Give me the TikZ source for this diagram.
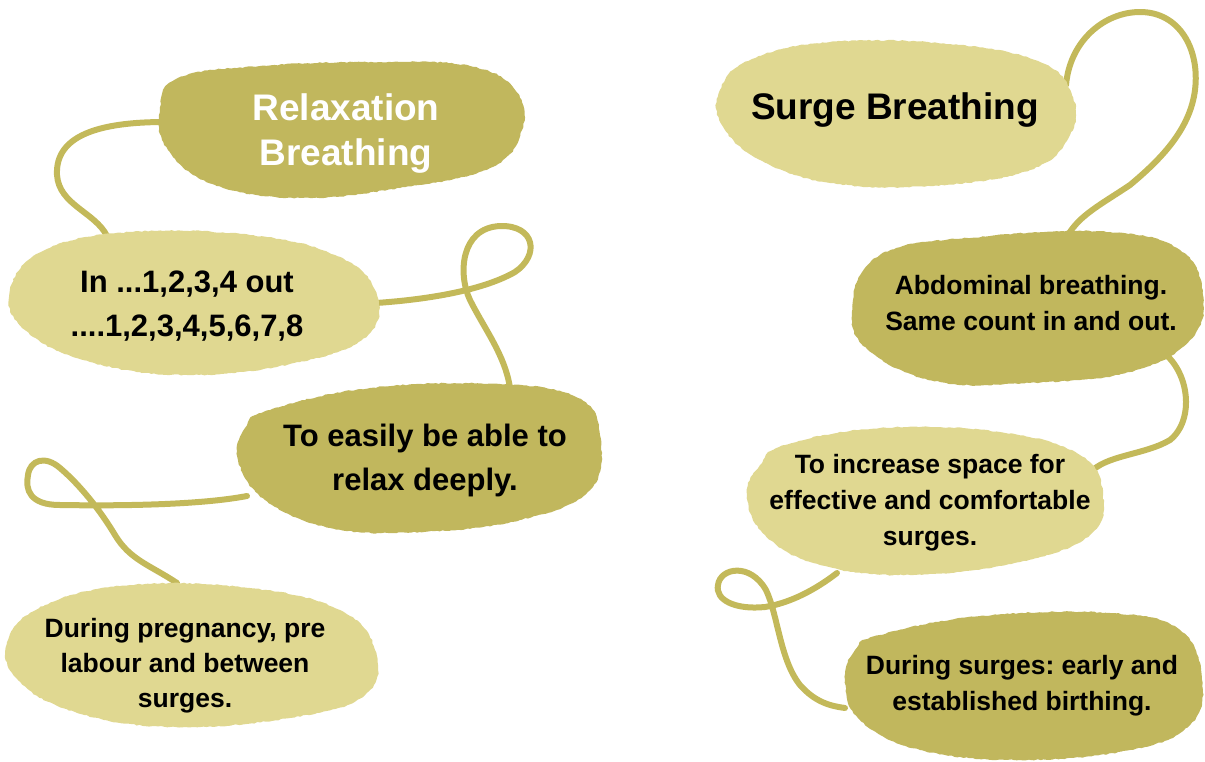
\documentclass[tikz,border=0pt]{standalone}
\usepackage{fontspec}
\setmainfont{Liberation Sans}
\usetikzlibrary{decorations.pathmorphing}
\pgfdeclarelayer{back}
\pgfdeclarelayer{mid}
\pgfsetlayers{back,mid,main}
\definecolor{olivedark}{RGB}{193,183,93}
\definecolor{olivelight}{RGB}{224,216,145}
\definecolor{wire}{RGB}{195,185,90}
\frenchspacing
\begin{document}
\frenchspacing
\begin{tikzpicture}[x=1pt,y=-1pt,
  wirestyle/.style={draw=wire,line width=6pt,line cap=round},
  rough/.style={decorate,decoration={random steps,segment length=3pt,amplitude=0.6pt}},
  darkblob/.style={fill=olivedark,rough},
  lightblob/.style={fill=olivelight,rough},
  txt/.style={align=center,inner sep=0pt,font=\bfseries},
  titlefont/.style={font=\bfseries\fontsize{37pt}{45pt}\selectfont},
  bigfont/.style={font=\bfseries\fontsize{31pt}{44pt}\selectfont},
  smallfont/.style={font=\bfseries\fontsize{26.5pt}{36pt}\selectfont},
  tightfont/.style={font=\bfseries\fontsize{26.5pt}{35pt}\selectfont}]
\useasboundingbox (0,0) rectangle (1205,761);

% text nodes
\node[txt,titlefont,text=white] (t1) at (346,134) {Relaxation\\Breathing};
\node[txt,bigfont] (t2) at (187,306) {In ...1,2,3,4 out\\....1,2,3,4,5,6,7,8};
\node[txt,bigfont] (t3) at (425,460) {To easily be able to\\relax deeply.};
\node[txt,tightfont] (t4) at (185,666) {During pregnancy, pre\\labour and between\\surges.};
\node[txt,titlefont] (t5) at (895,110) {Surge Breathing};
\node[txt,smallfont] (t6) at (1031,303) {Abdominal breathing.\\Same count in and out.};
\node[txt,smallfont] (t7) at (930,503) {To increase space for\\effective and comfortable\\surges.};
\node[txt,smallfont] (t8) at (1022,686) {During surges: early and\\established birthing.};

% connector end points (on the blobs of the nodes)
\coordinate (t1w) at (165,122);
\coordinate (t2n) at (107,236);
\coordinate (t2e) at (376,303);
\coordinate (t3n) at (510,388);
\coordinate (t3w) at (247,496);
\coordinate (t4n) at (177,583);
\coordinate (t5e) at (1066,85);
\coordinate (t6n) at (1068,235);
\coordinate (t6se) at (1160,350);
\coordinate (t7ne) at (1090,473);
\coordinate (t7s) at (837,573);
\coordinate (t8w) at (845,708);

% blobs
\begin{pgfonlayer}{mid}
\fill[darkblob] plot[smooth cycle,tension=0.7] coordinates {(178,78) (260,66) (380,62) (470,66) (515,90) (522,130) (490,168) (400,188) (300,198) (215,185) (168,150) (160,110)};
\fill[lightblob] plot[smooth cycle,tension=0.7] coordinates {(45,250) (130,232) (250,235) (335,255) (375,290) (368,335) (300,362) (190,375) (90,362) (25,330) (10,290)};
\fill[darkblob] plot[smooth cycle,tension=0.7] coordinates {(270,410) (370,388) (500,384) (578,398) (600,435) (590,490) (520,520) (420,532) (330,528) (265,500) (238,460) (245,428)};
\fill[lightblob] plot[smooth cycle,tension=0.7] coordinates {(45,605) (130,585) (250,588) (340,610) (375,650) (365,695) (290,718) (170,727) (75,712) (18,680) (8,640)};
\fill[lightblob] plot[smooth cycle,tension=0.7] coordinates {(750,60) (830,42) (950,44) (1040,62) (1072,95) (1070,135) (1030,170) (930,186) (830,183) (760,160) (722,125) (720,90)};
\fill[darkblob] plot[smooth cycle,tension=0.7] coordinates {(880,255) (990,236) (1110,232) (1180,250) (1203,295) (1190,340) (1130,372) (1030,383) (940,382) (875,355) (852,315)};
\fill[lightblob] plot[smooth cycle,tension=0.7] coordinates {(785,445) (880,428) (1000,432) (1080,455) (1103,495) (1090,535) (1020,562) (910,575) (820,565) (765,535) (747,495) (760,465)};
\fill[darkblob] plot[smooth cycle,tension=0.7] coordinates {(880,635) (980,616) (1110,613) (1180,630) (1202,680) (1190,725) (1130,750) (1020,760) (920,750) (860,720) (845,680) (855,650)};
\end{pgfonlayer}

% connectors
\begin{pgfonlayer}{back}
\draw[wirestyle] (t1w) .. controls (100,122) and (55,135) .. (57,175) .. controls (59,205) and (95,212) .. (t2n);
\draw[wirestyle] (t2e) .. controls (420,300) and (480,292) .. (515,272) .. controls (540,255) and (535,225) .. (500,226) .. controls (460,228) and (458,275) .. (470,300) .. controls (485,330) and (505,355) .. (t3n);
\draw[wirestyle] (t3w) .. controls (200,505) and (120,506) .. (60,505) .. controls (30,505) and (25,490) .. (28,475) .. controls (30,460) and (45,455) .. (60,468) .. controls (80,485) and (100,510) .. (115,535) .. controls (130,560) and (150,565) .. (t4n);
\draw[wirestyle] (t5e) .. controls (1070,40) and (1105,12) .. (1140,12) .. controls (1180,12) and (1200,50) .. (1195,90) .. controls (1190,130) and (1160,160) .. (1130,185) .. controls (1100,205) and (1080,215) .. (t6n);
\draw[wirestyle] (t6se) .. controls (1190,370) and (1195,420) .. (1170,440) .. controls (1145,455) and (1105,455) .. (t7ne);
\draw[wirestyle] (t7s) .. controls (815,590) and (790,603) .. (765,607) .. controls (735,610) and (715,600) .. (718,585) .. controls (720,568) and (750,562) .. (766,590) .. controls (778,615) and (780,660) .. (800,685) .. controls (815,702) and (830,706) .. (t8w);
\end{pgfonlayer}
\end{tikzpicture}
\end{document}
